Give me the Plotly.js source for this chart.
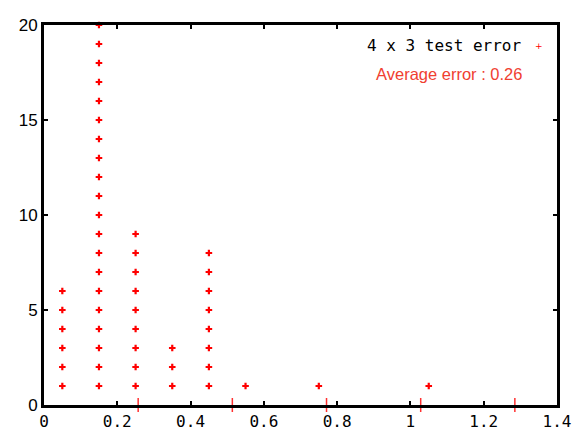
<!DOCTYPE html>
<html>
<head>
<meta charset="utf-8">
<script src="https://cdn.plot.ly/plotly-3.0.1.min.js"></script>
<style>html,body{margin:0;padding:0;background:#fff;}#chart{width:572px;height:430px;}</style>
</head>
<body>
<div id="chart"></div>
<script>
// Error bins (x) and how many test cases fall in each bin (stacked points 1..n)
const binCenters = [0.05, 0.15, 0.25, 0.35, 0.45, 0.55, 0.75, 1.05];
const binCounts  = [6, 20, 9, 3, 8, 1, 1, 1];
const averageError = 0.257;
const avgMultiples = [1, 2, 3, 4, 5];
const xTicks = [0, 0.2, 0.4, 0.6, 0.8, 1, 1.2, 1.4];
const xTickLabels = ['0', '0.2', '0.4', '0.6', '0.8', '1', '1.2', '1.4'];
const yTicks = [0, 5, 10, 15, 20];

const px = [], py = [];
binCenters.forEach((c, i) => {
  for (let k = 1; k <= binCounts[i]; k++) { px.push(c); py.push(k); }
});
const avgX = avgMultiples.map(m => m * averageError);
const avgY = avgMultiples.map(() => 0);

const traces = [
  {x: px, y: py, type: 'scatter', mode: 'markers', cliponaxis: false,
   marker: {symbol: 'cross', size: 5.5, color: '#ff0000', line: {width: 0}}, hoverinfo: 'x+y'},
  {x: avgX, y: avgY, type: 'scatter', mode: 'markers', cliponaxis: false,
   marker: {symbol: 'line-ns', size: 10, color: '#ff2020', line: {width: 1.5, color: '#ff3030'}}}
];

const layout = {
  width: 572, height: 430,
  margin: {l: 44, r: 15, t: 25, b: 25},
  paper_bgcolor: '#fff', plot_bgcolor: '#fff',
  showlegend: false,
  xaxis: {range: [0, 1.4], tickvals: xTicks, ticktext: xTickLabels,
    showgrid: false, zeroline: false, showline: true, linecolor: '#000', linewidth: 3,
    mirror: 'ticks', ticks: 'inside', ticklen: 4, tickwidth: 2, tickcolor: '#000',
    tickfont: {family: 'DejaVu Sans Mono', size: 16, color: '#000'}},
  yaxis: {range: [0, 20], tickvals: yTicks,
    showgrid: false, zeroline: false, showline: true, linecolor: '#000', linewidth: 3,
    mirror: 'ticks', ticks: 'inside', ticklen: 4, tickwidth: 2, tickcolor: '#000',
    tickfont: {family: 'Liberation Sans', size: 17, color: '#000'}},
  annotations: [
    {xref: 'paper', yref: 'paper', x: 0.933, y: 0.945, xanchor: 'right', yanchor: 'middle',
     text: '4 x 3 test error', showarrow: false,
     font: {family: 'DejaVu Sans Mono', size: 16, color: '#000'}},
    {xref: 'paper', yref: 'paper', x: 0.964, y: 0.945, xanchor: 'center', yanchor: 'middle',
     text: '+', showarrow: false,
     font: {family: 'DejaVu Sans', size: 9, color: '#ff0000'}},
    {xref: 'paper', yref: 'paper', x: 0.935, y: 0.872, xanchor: 'right', yanchor: 'middle',
     text: 'Average error : 0.26', showarrow: false,
     font: {family: 'Liberation Sans', size: 16.5, color: '#f04030'}}
  ]
};

Plotly.newPlot('chart', traces, layout, {displayModeBar: false, staticPlot: true});
</script>
</body>
</html>
